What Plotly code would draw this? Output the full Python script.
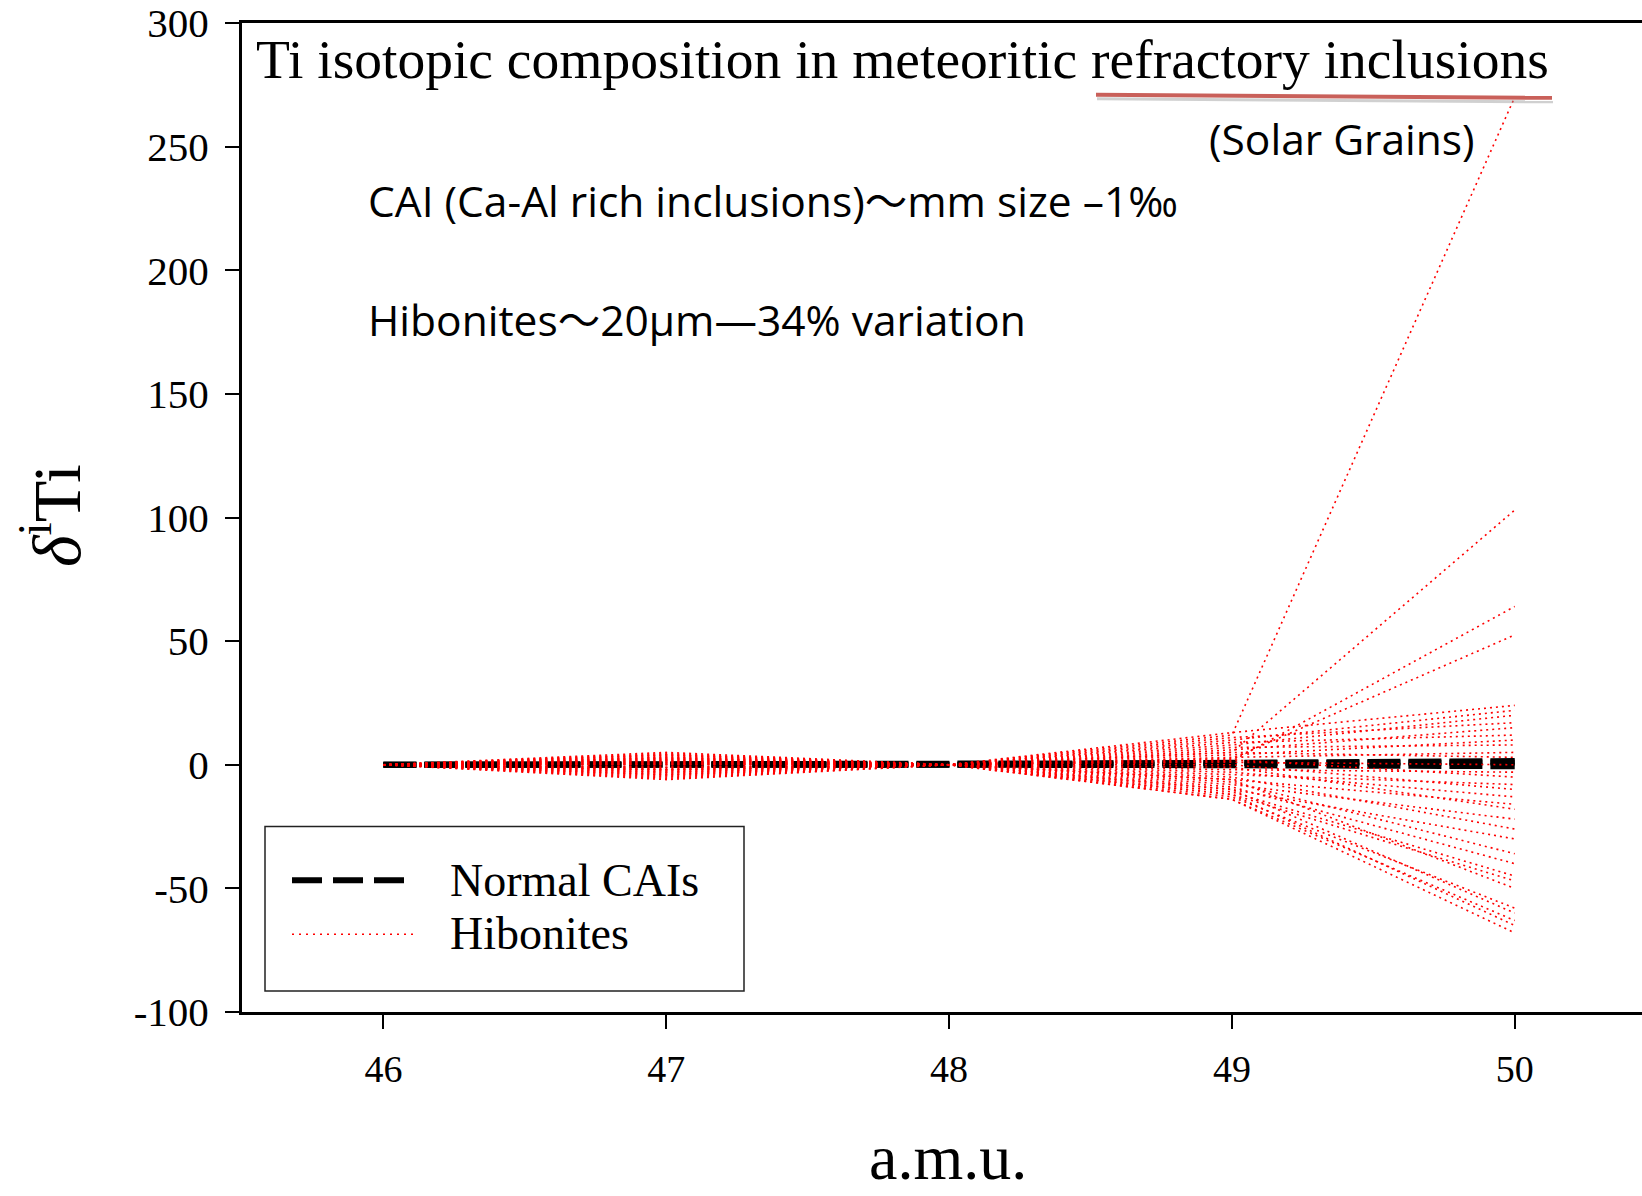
import plotly.graph_objects as go

# ---------------- data ----------------
masses = [46, 47, 48, 49, 50]
x_ticks = [46, 47, 48, 49, 50]
y_ticks = [-100, -50, 0, 50, 100, 150, 200, 250, 300]
y_tick_labels = ["-100", "-50", "0", "50", "100", "150", "200", "250", "300"]

# Normal CAIs (delta values at 47, 49, 50; 46 and 48 are the normalising isotopes = 0)
cai_d47 = [0.2, -0.3, 0.0]
cai_d49 = [0.4, -0.2, 0.8]
cai_d50 = [0.9, -0.6, 1.5]

# Hibonites
hib_d47 = [1.5, 0.5, -1, 2, 4.5, -2, 3, -4, 1, -5.5, 2.5, -3, 0, 4, -1.5,
           3.5, -2.5, 5, -4.5, 1, -6, 2, -3.5, 0.5, 4, -2, -5, 3, -1, 1.5,
           -3, 2.5, -4, 0, -2]
hib_d49 = [12, 5, 1.5, 2.5, 13, 10, 8, 11, 6, 9, 4, 7, 3, 5, 1,
           -2, 2, -4, 0, -3, -6, -1, -8, -5, -10, -7, -9, -11, -12, -6,
           -13, -10, -14, -12, -14]
hib_d50 = [270, 103, 64, 52.5, 24, 22, 20, 17, 15, 12, 10, 8, 5, 3, 0,
           -3, -5, -8, -10, -13, -16, -18, -22, -26, -30, -36, -40, -45, -47, -50,
           -58, -60, -63, -65, -68]

title_text = "Ti isotopic composition in meteoritic refractory inclusions"
note_solar = "(Solar Grains)"
note_cai = "CAI (Ca-Al rich inclusions)～mm size –1‰"
note_hib = "Hibonites～20μm—34% variation"
legend_names = ["Normal CAIs", "Hibonites"]
x_title = "a.m.u."
y_title = "<i>δ</i><sup>i</sup>Ti"

# ---------------- figure ----------------
W, H = 1642, 1196
L, R, T, B = 242, 0, 21, 184
PW, PH = W - L - R, H - T - B

def px(xp):
    return (xp - L) / PW

def py(yp):
    return (H - B - yp) / PH

SERIF = "Liberation Serif, Times New Roman, serif"
SANS = "Open Sans, Noto Sans CJK SC, sans-serif"

fig = go.Figure()

for a, b, c in zip(cai_d47, cai_d49, cai_d50):
    fig.add_trace(go.Scatter(
        x=masses, y=[0, a, 0, b, c], mode="lines",
        line=dict(color="black", width=6, dash="33px,8px"),
        name=legend_names[0], showlegend=False, hoverinfo="skip"))

for a, b, c in zip(hib_d47, hib_d49, hib_d50):
    fig.add_trace(go.Scatter(
        x=masses, y=[0, a, 0, b, c], mode="lines",
        line=dict(color="#ff0000", width=1.6, dash="2px,4px"),
        name=legend_names[1], showlegend=False, hoverinfo="skip"))

shapes = []
# red underline with soft shadow
shapes.append(dict(type="line", xref="paper", yref="paper",
                   x0=px(1097), y0=py(97), x1=px(1553), y1=py(100),
                   line=dict(color="rgba(150,150,150,0.45)", width=3)))
shapes.append(dict(type="line", xref="paper", yref="paper",
                   x0=px(1096), y0=py(93), x1=px(1552), y1=py(96),
                   line=dict(color="#c9605a", width=4)))
# legend box
shapes.append(dict(type="rect", xref="paper", yref="paper",
                   x0=px(265), y0=py(991), x1=px(744), y1=py(826),
                   line=dict(color="#222222", width=1.5), fillcolor="white"))
shapes.append(dict(type="line", xref="paper", yref="paper",
                   x0=px(292), y0=py(880), x1=px(406), y1=py(880),
                   line=dict(color="black", width=6, dash="30px,11px")))
shapes.append(dict(type="line", xref="paper", yref="paper",
                   x0=px(292), y0=py(934), x1=px(418), y1=py(934),
                   line=dict(color="#ff0000", width=1.5, dash="2px,5px")))

annotations = [
    dict(text=title_text, xref="paper", yref="paper", x=px(254), y=py(58),
         xanchor="left", yanchor="middle", showarrow=False,
         font=dict(family=SERIF, size=55.5, color="black")),
    dict(text=note_solar, xref="paper", yref="paper", x=px(1207), y=py(137),
         xanchor="left", yanchor="middle", showarrow=False,
         font=dict(family=SANS, size=42.5, color="black")),
    dict(text=note_cai, xref="paper", yref="paper", x=px(366), y=py(199),
         xanchor="left", yanchor="middle", showarrow=False,
         font=dict(family=SANS, size=42.5, color="black")),
    dict(text=note_hib, xref="paper", yref="paper", x=px(366), y=py(318),
         xanchor="left", yanchor="middle", showarrow=False,
         font=dict(family=SANS, size=42.5, color="black")),
    dict(text=legend_names[0], xref="paper", yref="paper", x=px(448), y=py(880),
         xanchor="left", yanchor="middle", showarrow=False,
         font=dict(family=SERIF, size=46, color="black")),
    dict(text=legend_names[1], xref="paper", yref="paper", x=px(448), y=py(933),
         xanchor="left", yanchor="middle", showarrow=False,
         font=dict(family=SERIF, size=46, color="black")),
    dict(text=y_title, xref="paper", yref="paper", x=px(52), y=py(515),
         xanchor="center", yanchor="middle", showarrow=False, textangle=-90,
         font=dict(family=SERIF, size=68, color="black")),
    dict(text=x_title, xref="paper", yref="paper", x=px(948), y=py(1158),
         xanchor="center", yanchor="middle", showarrow=False,
         font=dict(family=SERIF, size=64, color="black")),
]

fig.update_layout(
    width=W, height=H,
    margin=dict(l=L, r=R, t=T, b=B, pad=0),
    paper_bgcolor="white", plot_bgcolor="white",
    showlegend=False,
    shapes=shapes, annotations=annotations,
    xaxis=dict(range=[45.5, 50.45], tickvals=x_ticks, ticks="outside",
               ticklen=14, tickwidth=2, tickcolor="black",
               showline=True, linewidth=3, linecolor="black", mirror=True,
               showgrid=False, zeroline=False, ticklabelstandoff=7,
               ticklabeloverflow="allow",
               tickfont=dict(family=SERIF, size=38, color="black")),
    yaxis=dict(range=[-100, 300], tickvals=y_ticks, ticktext=y_tick_labels,
               ticks="outside", ticklen=14, tickwidth=2, tickcolor="black",
               showline=True, linewidth=3, linecolor="black", mirror=False,
               showgrid=False, zeroline=False, ticklabelstandoff=8,
               ticklabeloverflow="allow",
               tickfont=dict(family=SERIF, size=41, color="black")),
)

fig.write_html("out.html")
